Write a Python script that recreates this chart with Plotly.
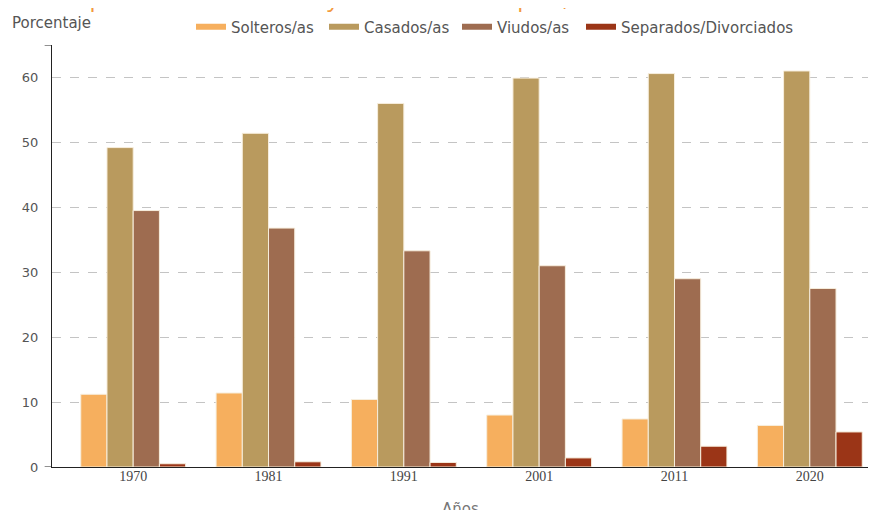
import plotly.graph_objects as go

# ─────────────────────────────────────────────────────────────
# Data
# ─────────────────────────────────────────────────────────────
YEARS = ["1970", "1981", "1991", "2001", "2011", "2020"]

SOLTEROS = [11.2, 11.4, 10.4, 8.0, 7.4, 6.4]
CASADOS = [49.2, 51.4, 56.0, 59.9, 60.6, 61.0]
VIUDOS = [39.5, 36.8, 33.3, 31.0, 29.0, 27.5]
SEPARADOS = [0.5, 0.8, 0.7, 1.4, 3.2, 5.4]

SERIES = [
    ("Solteros/as", SOLTEROS, "#F6AF5E"),
    ("Casados/as", CASADOS, "#B99A5E"),
    ("Viudos/as", VIUDOS, "#9E6C50"),
    ("Separados/Divorciados", SEPARADOS, "#9B3517"),
]

SANS = "DejaVu Sans, Noto Sans, sans-serif"

# page is shown with the browser's default 8px body margin, margins compensate
L, R, T, B = 44, 21, 37, 51
PLOT_H = 510 - T - B

fig = go.Figure()

for name, vals, color in SERIES:
    fig.add_trace(go.Bar(
        x=YEARS, y=vals, name=name, showlegend=False,
        marker=dict(color=color, line=dict(color="#F7EEDD", width=1)),
        hovertemplate="%{x}: %{y:.1f}%<extra>" + name + "</extra>",
    ))

# legend entries drawn as short thick strips (like the original swatches);
# last entry goes in its own legend so its long label is not clipped
for i, (name, vals, color) in enumerate(SERIES):
    fig.add_trace(go.Scatter(
        x=[None], y=[None], mode="lines", name=name,
        line=dict(color=color, width=6), hoverinfo="skip",
        legend="legend2" if i == len(SERIES) - 1 else "legend",
    ))

# outer ticks at the ends of the y axis (d3 style domain path)
for yv in (0, 65):
    fig.add_shape(type="line", xref="paper", yref="y",
                  x0=-0.009, x1=0, y0=yv, y1=yv,
                  line=dict(color="#222", width=1))

legend_common = dict(
    orientation="h", xref="container", yref="container",
    xanchor="left", y=1 - 19 / 510, yanchor="middle",
    font=dict(size=15, color="#555", family=SANS),
    itemwidth=30, traceorder="normal", tracegroupgap=0,
)

fig.update_layout(
    width=881, height=510,
    paper_bgcolor="#FFFFFF", plot_bgcolor="#FFFFFF",
    margin=dict(l=L, r=R, t=T, b=B, autoexpand=False),
    barmode="group", bargap=0.225, bargroupgap=0.0,
    font=dict(family=SANS, color="#555"),
    legend=dict(legend_common, x=183 / 881, entrywidth=88, entrywidthmode="pixels"),
    legend2=dict(legend_common, x=573 / 881),
    xaxis=dict(
        range=[-0.6, 5.43],
        showline=True, linecolor="#222", linewidth=1,
        ticks="", ticklabelstandoff=-4,
        tickfont=dict(family="Liberation Serif, serif", size=14, color="#444"),
        showgrid=False, zeroline=False,
    ),
    yaxis=dict(
        range=[0, 65], tickvals=[0, 10, 20, 30, 40, 50, 60],
        showline=True, linecolor="#222", linewidth=1,
        showgrid=True, gridcolor="#C4C4C4", griddash="dash", gridwidth=1,
        zeroline=False, ticks="", ticklabelstandoff=10,
        tickfont=dict(size=13, color="#555", family=SANS),
    ),
    annotations=[
        dict(text="Porcentaje", xref="paper", yref="paper", x=(2 - L) / 816, y=1 + (T - 15) / PLOT_H,
             xanchor="left", yanchor="middle", showarrow=False,
             font=dict(size=15, color="#555", family=SANS)),
        dict(text="Años", xref="paper", yref="paper", x=0.5, y=-0.073,
             xanchor="center", yanchor="top", showarrow=False,
             font=dict(size=15, color="#777", family=SANS)),
        dict(text="Estado civil de las personas de 60 años y más en todo el país, 1970-2020",
             xref="paper", yref="paper", x=(-122 - L) / 816, y=1 + (T - 7) / PLOT_H,
             xanchor="left", yanchor="bottom", showarrow=False,
             font=dict(size=24, color="#F39A3C", family="Open Sans, sans-serif")),
    ],
)

fig.write_html("out.html")
